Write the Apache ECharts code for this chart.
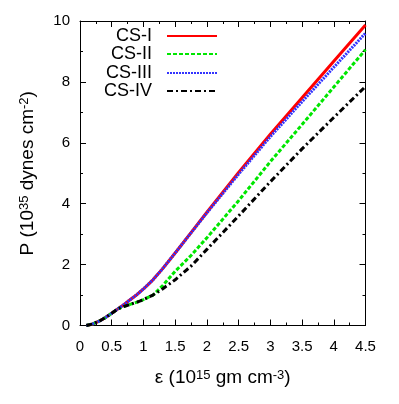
<!DOCTYPE html>
<html>
<head>
<meta charset="utf-8">
<script src="https://cdn.jsdelivr.net/npm/echarts@6/dist/echarts.min.js"></script>
<style>html,body{margin:0;padding:0;background:#fff;}#c{width:399px;height:404px;}</style>
</head>
<body>
<div id="c"></div>
<script>
// Data (ε in 10^15 gm cm^-3, P in 10^35 dynes cm^-2)
const eps = [0.1,0.2,0.3,0.4,0.5,0.6,0.7,0.8,0.9,1.0,1.15,1.3,1.5,1.75,2.0,2.5,3.0,3.5,4.0,4.5];
const pCS1 = [0,0.05,0.14,0.26,0.4,0.55,0.7,0.86,1.02,1.2,1.5,1.86,2.38,3.05,3.72,5.03,6.28,7.48,8.68,9.87];
const pCS2 = [0,0.05,0.14,0.26,0.4,0.55,0.63,0.7,0.77,0.85,1.0,1.3,1.78,2.3,2.88,4.1,5.38,6.6,7.83,9.06];
const pCS3 = [0,0.05,0.14,0.26,0.4,0.55,0.7,0.86,1.02,1.2,1.5,1.86,2.38,3.04,3.7,4.97,6.2,7.35,8.48,9.6];
const pCS4 = [0,0.05,0.14,0.26,0.4,0.55,0.63,0.7,0.77,0.85,1.0,1.2,1.5,1.95,2.5,3.6,4.72,5.8,6.83,7.85];
const names = ['CS-I','CS-II','CS-III','CS-IV'];
const xTicks = {min:0, max:4.5, interval:0.5};
const yTicks = {min:0, max:10, interval:2};

const styles = [
  {color:'#ff0000', type:'solid'},
  {color:'#00e600', type:[4,2]},
  {color:'#3333ff', type:[2,1]},
  {color:'#000000', type:[6,3,2,3]}
];
const allP = [pCS1,pCS2,pCS3,pCS4];
const FONT = '"Liberation Sans", Arial, sans-serif';

const series = names.map((n,i)=>({
  name:n, type:'line', xAxisIndex:0, yAxisIndex:0,
  data: eps.map((e,k)=>[e, allP[i][k]]),
  showSymbol:false, symbol:'none', smooth:false,
  lineStyle:{color:styles[i].color, width:3, type:styles[i].type},
  itemStyle:{color:styles[i].color},
  z: 2+i
}));

const legendTops = [27,45,64,82];
const legends = names.map((n,i)=>({
  data:[n], orient:'vertical', right:181, top:legendTops[i], align:'right',
  itemWidth:50, itemHeight:14, padding:0,
  itemStyle:{opacity:0},
  textStyle:{fontSize:18, color:'#000', fontFamily:FONT, padding:[0,10,0,0]},
  selectedMode:false
}));

const commonAxis = {
  axisLine:{show:true, onZero:false, lineStyle:{color:'#000', width:1}},
  splitLine:{show:false},
  minorSplitLine:{show:false}
};
const nameRich = {t:{fontSize:19, fontFamily:FONT, color:'#000', verticalAlign:'bottom'}, s:{fontSize:13, fontFamily:FONT, color:'#000', verticalAlign:'top'}};

const option = {
  animation:false,
  backgroundColor:'#fff',
  grid:{left:80, right:33.5, top:21, bottom:78.5, containLabel:false},
  legend: legends,
  xAxis:[
    Object.assign({type:'value', position:'bottom', min:xTicks.min, max:xTicks.max, interval:xTicks.interval,
      name:'{t|ε (10}{s|15}{t| gm cm}{s|-3}{t|)}', nameLocation:'middle', nameGap:43,
      nameTextStyle:{rich:nameRich},
      axisTick:{show:true, inside:true, length:6, lineStyle:{color:'#000'}},
      minorTick:{show:true, splitNumber:2, length:3, lineStyle:{color:'#000'}},
      axisLabel:{show:true, fontSize:15, fontFamily:FONT, color:'#000', margin:14,
        formatter:v=>String(v)}
    }, commonAxis),
    Object.assign({type:'value', position:'top', min:xTicks.min, max:xTicks.max, interval:xTicks.interval,
      axisTick:{show:true, inside:true, length:6, lineStyle:{color:'#000'}},
      minorTick:{show:true, splitNumber:2, length:3, lineStyle:{color:'#000'}},
      axisLabel:{show:false}
    }, commonAxis)
  ],
  yAxis:[
    Object.assign({type:'value', position:'left', min:yTicks.min, max:yTicks.max, interval:yTicks.interval,
      name:'{t|P (10}{s|35}{t| dynes cm}{s|-2}{t|)}', nameLocation:'middle', nameGap:43, nameRotate:90,
      nameTextStyle:{rich:nameRich},
      axisTick:{show:true, inside:true, length:6, lineStyle:{color:'#000'}},
      minorTick:{show:true, splitNumber:2, length:3, lineStyle:{color:'#000'}},
      axisLabel:{show:true, fontSize:15, fontFamily:FONT, color:'#000', margin:10}
    }, commonAxis),
    Object.assign({type:'value', position:'right', min:yTicks.min, max:yTicks.max, interval:yTicks.interval,
      axisTick:{show:true, inside:true, length:6, lineStyle:{color:'#000'}},
      minorTick:{show:true, splitNumber:2, length:3, lineStyle:{color:'#000'}},
      axisLabel:{show:false}
    }, commonAxis)
  ],
  series: series
};
const chart = echarts.init(document.getElementById('c'), null, {renderer:'canvas'});
chart.setOption(option);
</script>
</body>
</html>
